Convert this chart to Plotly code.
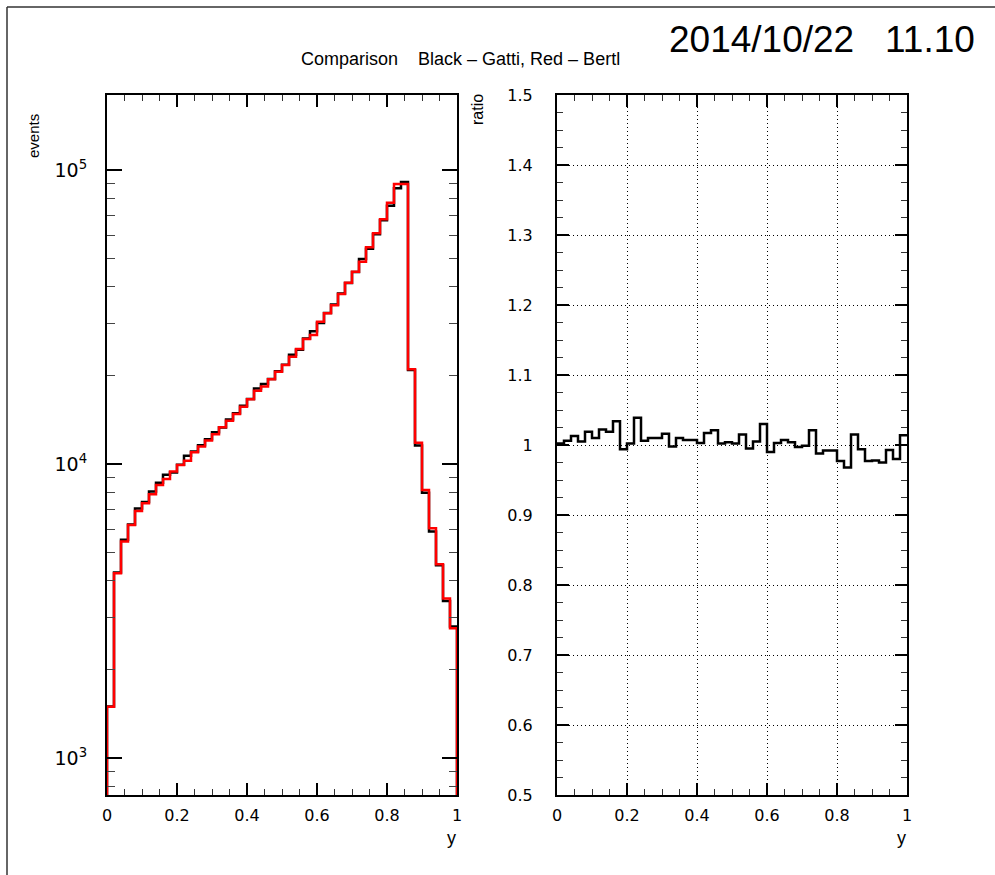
import numpy as np
import plotly.graph_objects as go

# ---- data ----
bin_lo, bin_hi, n_bins = 0.0, 1.0, 50

bertl_red = [1495, 4250, 5450, 6200, 6920, 7350, 7890, 8480, 8890, 9420,
             9920, 10260, 10960, 11460, 12010, 12620, 13330, 14030, 14790, 15660,
             16600, 17760, 18330, 19420, 20600, 21710, 23170, 24600, 26600, 27470,
             30480, 32550, 34660, 37870, 41370, 45070, 48740, 54580, 60920, 67990,
             77410, 89600, 89600, 21000, 11820, 8160, 6040, 4560, 3490, 2760]

gatti_black = [1498, 4276, 5521, 6231, 7051, 7424, 8064, 8641, 9192, 9363,
               9940, 10660, 11026, 11575, 12130, 12822, 13303, 14170, 14894, 15770,
               16650, 18062, 18715, 19459, 20682, 21753, 23518, 24477, 26733, 28294,
               30175, 32648, 34903, 38021, 41246, 45025, 49764, 53925, 60433, 67446,
               75630, 86733, 90944, 20874, 11548, 7980, 5889, 4528, 3420, 2799]

ratio = [1.002, 1.006, 1.013, 1.005, 1.019, 1.010, 1.022, 1.019, 1.034, 0.994,
         1.002, 1.039, 1.006, 1.010, 1.010, 1.016, 0.998, 1.010, 1.007, 1.007,
         1.003, 1.017, 1.021, 1.002, 1.004, 1.002, 1.015, 0.995, 1.005, 1.030,
         0.990, 1.003, 1.007, 1.004, 0.997, 0.999, 1.021, 0.988, 0.992, 0.992,
         0.977, 0.968, 1.015, 0.994, 0.977, 0.978, 0.975, 0.993, 0.980, 1.014]

x_ticks = [0, 0.2, 0.4, 0.6, 0.8, 1]
x_ticktext = ["0", "0.2", "0.4", "0.6", "0.8", "1"]
log_ticks = [1e3, 1e4, 1e5]
log_ticktext = ["10<sup>3</sup>", "10<sup>4</sup>", "10<sup>5</sup>"]
ratio_ticks = [0.5, 0.6, 0.7, 0.8, 0.9, 1.0, 1.1, 1.2, 1.3, 1.4, 1.5]
ratio_ticktext = ["0.5", "0.6", "0.7", "0.8", "0.9", "1", "1.1", "1.2", "1.3", "1.4", "1.5"]

title_text = "Comparison\u00a0\u00a0\u00a0 Black \u2013 Gatti, Red \u2013 Bertl"
date_text = "2014/10/22\u00a0\u00a0\u00a011.10"

# ---- geometry helpers ----
edges = np.linspace(bin_lo, bin_hi, n_bins + 1)
W, H = 995, 875
LAB = "Liberation Sans"
TICKF = "DejaVu Sans"


def hist_outline(vals, floor):
    xs = [edges[0]] + list(edges[:-1]) + [edges[-1], edges[-1]]
    ys = [floor] + list(vals) + [vals[-1], floor]
    return xs, ys


def step_line(vals):
    xs = list(edges[:-1]) + [edges[-1]]
    ys = list(vals) + [vals[-1]]
    return xs, ys


fig = go.Figure()

bx, by = hist_outline(gatti_black, 100)
fig.add_trace(go.Scatter(x=bx, y=by, mode="lines", line=dict(color="black", width=2.5, shape="hv"),
                         xaxis="x", yaxis="y", showlegend=False, name="Gatti"))
rx, ry = hist_outline(bertl_red, 100)
fig.add_trace(go.Scatter(x=rx, y=ry, mode="lines", line=dict(color="#ff0000", width=2.5, shape="hv"),
                         xaxis="x", yaxis="y", showlegend=False, name="Bertl"))
qx, qy = step_line(ratio)
fig.add_trace(go.Scatter(x=qx, y=qy, mode="lines", line=dict(color="black", width=2.5, shape="hv"),
                         xaxis="x2", yaxis="y2", showlegend=False, name="ratio"))

ydom = [1 - 795 / H, 1 - 95 / H]
tickfont = dict(family=TICKF, size=16, color="black")

common_x = dict(range=[0, 1], tickmode="array", tickvals=x_ticks, ticktext=x_ticktext,
                ticks="inside", ticklen=12, tickwidth=1.5, tickcolor="black",
                showline=True, linecolor="black", linewidth=2, mirror="ticks",
                minor=dict(dtick=0.05, ticks="inside", ticklen=6, tickwidth=1.2, tickcolor="#333"),
                tickfont=tickfont, ticklabelstandoff=5, zeroline=False, automargin=False)

minor_log = [k * 10 ** d for d in range(2, 6) for k in range(2, 10)]

fig.update_layout(
    width=W, height=H, margin=dict(l=0, r=0, t=0, b=0, pad=0, autoexpand=False),
    paper_bgcolor="white", plot_bgcolor="white", showlegend=False,
    xaxis=dict(domain=[107 / W, 457 / W], anchor="y", showgrid=False, **common_x),
    yaxis=dict(domain=ydom, anchor="x", type="log", range=[2.8741, 5.2551],
               tickmode="array", tickvals=log_ticks, ticktext=log_ticktext,
               ticks="inside", ticklen=15, tickwidth=1.5, tickcolor="black",
               showline=True, linecolor="black", linewidth=2, mirror="ticks",
               minor=dict(tickmode="array", tickvals=minor_log, ticks="inside", ticklen=8,
                          tickwidth=1.2, tickcolor="#444"),
               showgrid=False, tickfont=dict(family=TICKF, size=19, color="black"),
               ticklabelstandoff=14, zeroline=False, automargin=False),
    xaxis2=dict(domain=[557 / W, 907 / W], anchor="y2", showgrid=True, gridcolor="black",
                griddash="1px,3px", gridwidth=1, **common_x),
    yaxis2=dict(domain=ydom, anchor="x2", range=[0.5, 1.5],
                tickmode="array", tickvals=ratio_ticks, ticktext=ratio_ticktext,
                ticks="inside", ticklen=12, tickwidth=1.5, tickcolor="black",
                showline=True, linecolor="black", linewidth=2, mirror="ticks",
                minor=dict(dtick=0.025, ticks="inside", ticklen=6, tickwidth=1.2, tickcolor="#333"),
                showgrid=True, gridcolor="black", griddash="1px,3px", gridwidth=1,
                tickfont=tickfont, ticklabelstandoff=19, zeroline=False, automargin=False),
)

# outer frame (left and top edges visible)
fig.add_shape(type="line", xref="paper", yref="paper", x0=7 / W, x1=1, y0=1 - 7 / H, y1=1 - 7 / H,
              line=dict(color="#333", width=1.5))
fig.add_shape(type="line", xref="paper", yref="paper", x0=7 / W, x1=7 / W, y0=0, y1=1 - 7 / H,
              line=dict(color="#333", width=1.5))

ann_font = dict(family=LAB, color="black")
fig.add_annotation(text=title_text, xref="paper", yref="paper", x=460 / W, y=1 - 59 / H,
                   showarrow=False, xanchor="center", yanchor="middle", font=dict(size=18, **ann_font))
fig.add_annotation(text=date_text, xref="paper", yref="paper", x=977 / W, y=1 - 40 / H,
                   showarrow=False, xanchor="right", yanchor="middle", font=dict(size=37, **ann_font))
fig.add_annotation(text="events", xref="paper", yref="paper", x=33 / W, y=1 - 136 / H, textangle=-90,
                   showarrow=False, xanchor="center", yanchor="middle", font=dict(size=15, **ann_font))
fig.add_annotation(text="ratio", xref="paper", yref="paper", x=478 / W, y=1 - 110 / H, textangle=-90,
                   showarrow=False, xanchor="center", yanchor="middle", font=dict(size=16, **ann_font))
fig.add_annotation(text="y", xref="paper", yref="paper", x=451 / W, y=1 - 838 / H,
                   showarrow=False, xanchor="center", yanchor="middle", font=dict(size=18, **ann_font))
fig.add_annotation(text="y", xref="paper", yref="paper", x=901 / W, y=1 - 838 / H,
                   showarrow=False, xanchor="center", yanchor="middle", font=dict(size=18, **ann_font))

fig.write_html("out.html")
